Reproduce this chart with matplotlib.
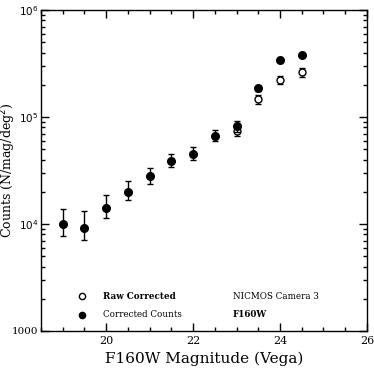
import matplotlib
matplotlib.use("Agg")
import matplotlib.pyplot as plt
import numpy as np
from matplotlib.ticker import LogLocator, FixedLocator, FixedFormatter, MultipleLocator, NullFormatter

plt.rcParams['font.family'] = ['DejaVu Serif']

# Corrected counts (filled)
mag_corr = [19.0, 19.5, 20.0, 20.5, 21.0, 21.5, 22.0, 22.5, 23.0, 23.5, 24.0, 24.5]
cnt_corr = [1.0e4, 9.1e3, 1.42e4, 2.0e4, 2.79e4, 3.88e4, 4.5e4, 6.6e4, 8.15e4, 1.85e5, 3.39e5, 3.79e5]
err_lo_corr = [2.3e3, 2.0e3, 2.9e3, 3.3e3, 4.2e3, 4.7e3, 5.6e3, 6.7e3, 9.5e3, 1.0e4, 1.5e4, 1.6e4]
err_hi_corr = [3.9e3, 4.1e3, 4.6e3, 5.4e3, 5.7e3, 6.6e3, 7.0e3, 9.6e3, 1.1e4, 1.1e4, 1.6e4, 1.7e4]

# Raw corrected (open)
mag_raw = [23.0, 23.5, 24.0, 24.5]
cnt_raw = [7.4e4, 1.46e5, 2.23e5, 2.63e5]
err_raw = [8.0e3, 1.3e4, 1.9e4, 2.4e4]

fig = plt.figure(figsize=(3.74, 3.71), dpi=100)
ax = fig.add_axes([0.1096, 0.108, 0.8714, 0.865])

ax.errorbar(mag_raw, cnt_raw, yerr=err_raw, fmt='o', mfc='white', mec='black',
            ecolor='black', ms=5, mew=1.0, capsize=2.2, elinewidth=1.0, capthick=1.0, zorder=2)
ax.errorbar(mag_corr, cnt_corr, yerr=[err_lo_corr, err_hi_corr], fmt='o', mfc='black', mec='black',
            ecolor='black', ms=5.5, capsize=2.2, elinewidth=1.0, capthick=1.0, zorder=3)

ax.set_yscale('log')
ax.set_xlim(18.5, 26)
ax.set_ylim(1000, 1e6)

ax.xaxis.set_major_locator(MultipleLocator(2))
ax.xaxis.set_minor_locator(MultipleLocator(0.5))
ax.yaxis.set_major_locator(FixedLocator([1e3, 1e4, 1e5, 1e6]))
ax.yaxis.set_major_formatter(FixedFormatter(['1000', r'$10^4$', r'$10^5$', r'$10^6$']))
ax.yaxis.set_minor_locator(LogLocator(base=10, subs=np.arange(2, 10)))
ax.yaxis.set_minor_formatter(NullFormatter())

ax.tick_params(which='both', direction='in', top=True, right=True, labelsize=8, width=1.0)
ax.tick_params(axis='y', labelsize=7.5)
ax.tick_params(which='major', length=6)
ax.tick_params(which='minor', length=3)
ax.tick_params(axis='y', which='major', pad=2)
for s in ax.spines.values():
    s.set_linewidth(1.0)

ax.set_xlabel('F160W Magnitude (Vega)', fontsize=11, labelpad=4)
ax.set_ylabel(r'Counts (N/mag/deg$^2$)', fontsize=9)
ax.yaxis.set_label_coords(-0.07, 0.5)

# legend-like annotations
y_row1, y_row2 = 2.12e3, 1.41e3
ax.plot([19.44], [y_row1], 'o', mfc='white', mec='black', ms=4.5, mew=1.0)
ax.plot([19.44], [y_row2], 'o', mfc='black', mec='black', ms=4.5)
ax.text(19.93, y_row1, 'Raw Corrected', fontsize=6.3, fontweight='bold', va='center')
ax.text(19.93, y_row2, 'Corrected Counts', fontsize=6.3, va='center')
ax.text(22.92, y_row1, 'NICMOS Camera 3', fontsize=6.3, va='center')
ax.text(22.92, y_row2, 'F160W', fontsize=6.3, fontweight='bold', va='center')

fig.savefig('out.png', dpi=100)
